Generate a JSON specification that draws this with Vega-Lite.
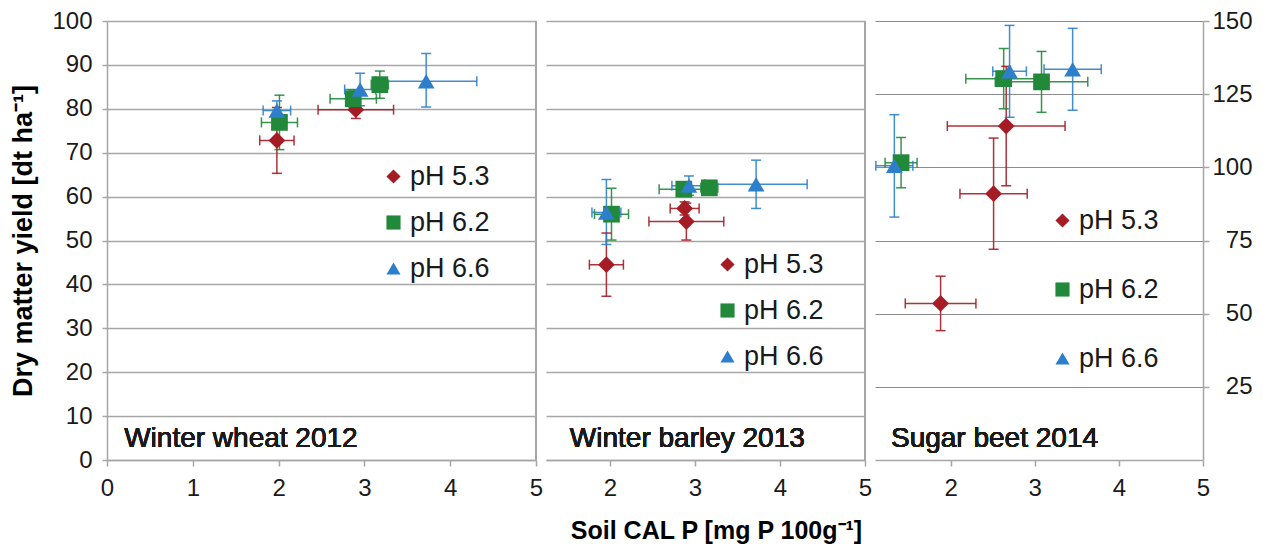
{
  "$schema": "https://vega.github.io/schema/vega-lite/v6.json",
  "background": "white",
  "padding": {"left": 9, "top": 9, "right": 8, "bottom": 4},
  "bounds": "flush",
  "spacing": 10,
  "config": {
    "font": "Liberation Sans",
    "view": {"stroke": null},
    "axis": {
      "labelFont": "Liberation Sans",
      "labelFontSize": 24,
      "labelColor": "#1a1a1a",
      "domainColor": "#A6A6A6",
      "domainWidth": 1.5,
      "tickColor": "#A6A6A6",
      "tickWidth": 1.5,
      "tickSize": 6,
      "gridColor": "#A6A6A6",
      "gridWidth": 1.5,
      "titleFont": "Liberation Sans",
      "titleFontWeight": "bold",
      "titleFontSize": 25,
      "titleColor": "#000000"
    },
    "legend": {
      "labelFont": "Liberation Sans",
      "labelFontSize": 27,
      "labelColor": "#1a1a1a",
      "symbolSize": 200,
      "symbolStrokeWidth": 0,
      "labelOffset": 3
    }
  },
  "datasets": {
    "pts": [
      {"crop": "Winter wheat 2012", "ph": "pH 5.3", "x": 1.98, "y": 72.8, "xlo": 1.78, "xhi": 2.18, "ylo": 65.3, "yhi": 80.3},
      {"crop": "Winter wheat 2012", "ph": "pH 5.3", "x": 2.90, "y": 79.8, "xlo": 2.46, "xhi": 3.34, "ylo": 77.8, "yhi": 81.8},
      {"crop": "Winter wheat 2012", "ph": "pH 6.2", "x": 2.01, "y": 76.9, "xlo": 1.80, "xhi": 2.22, "ylo": 70.7, "yhi": 83.1},
      {"crop": "Winter wheat 2012", "ph": "pH 6.2", "x": 2.87, "y": 82.3, "xlo": 2.60, "xhi": 3.14, "ylo": 80.3, "yhi": 84.3},
      {"crop": "Winter wheat 2012", "ph": "pH 6.2", "x": 3.18, "y": 85.5, "xlo": 3.08, "xhi": 3.28, "ylo": 82.4, "yhi": 88.6},
      {"crop": "Winter wheat 2012", "ph": "pH 6.6", "x": 1.98, "y": 79.6, "xlo": 1.82, "xhi": 2.14, "ylo": 77.4, "yhi": 81.8},
      {"crop": "Winter wheat 2012", "ph": "pH 6.6", "x": 2.95, "y": 84.4, "xlo": 2.77, "xhi": 3.13, "ylo": 80.7, "yhi": 88.1},
      {"crop": "Winter wheat 2012", "ph": "pH 6.6", "x": 3.72, "y": 86.3, "xlo": 3.13, "xhi": 4.31, "ylo": 80.4, "yhi": 92.6},
      {"crop": "Winter barley 2013", "ph": "pH 5.3", "x": 1.96, "y": 44.5, "xlo": 1.76, "xhi": 2.16, "ylo": 37.3, "yhi": 51.7},
      {"crop": "Winter barley 2013", "ph": "pH 5.3", "x": 2.90, "y": 54.3, "xlo": 2.46, "xhi": 3.34, "ylo": 50.1, "yhi": 58.5},
      {"crop": "Winter barley 2013", "ph": "pH 5.3", "x": 2.88, "y": 57.3, "xlo": 2.71, "xhi": 3.05, "ylo": 55.8, "yhi": 58.8},
      {"crop": "Winter barley 2013", "ph": "pH 6.2", "x": 2.02, "y": 56.0, "xlo": 1.82, "xhi": 2.22, "ylo": 50.1, "yhi": 61.9},
      {"crop": "Winter barley 2013", "ph": "pH 6.2", "x": 2.87, "y": 61.7, "xlo": 2.58, "xhi": 3.16, "ylo": 60.2, "yhi": 63.2},
      {"crop": "Winter barley 2013", "ph": "pH 6.2", "x": 3.17, "y": 62.0, "xlo": 3.07, "xhi": 3.27, "ylo": 60.8, "yhi": 63.2},
      {"crop": "Winter barley 2013", "ph": "pH 6.6", "x": 1.96, "y": 56.4, "xlo": 1.79, "xhi": 2.13, "ylo": 49.1, "yhi": 63.9},
      {"crop": "Winter barley 2013", "ph": "pH 6.6", "x": 2.93, "y": 62.5, "xlo": 2.73, "xhi": 3.13, "ylo": 60.3, "yhi": 64.7},
      {"crop": "Winter barley 2013", "ph": "pH 6.6", "x": 3.72, "y": 62.8, "xlo": 3.12, "xhi": 4.32, "ylo": 57.3, "yhi": 68.3},
      {"crop": "Sugar beet 2014", "ph": "pH 5.3", "x": 2.66, "y": 114.1, "xlo": 1.96, "xhi": 3.36, "ylo": 93.7, "yhi": 134.5},
      {"crop": "Sugar beet 2014", "ph": "pH 5.3", "x": 2.51, "y": 91.0, "xlo": 2.11, "xhi": 2.91, "ylo": 72.0, "yhi": 110.0},
      {"crop": "Sugar beet 2014", "ph": "pH 5.3", "x": 1.88, "y": 53.5, "xlo": 1.46, "xhi": 2.30, "ylo": 44.2, "yhi": 62.8},
      {"crop": "Sugar beet 2014", "ph": "pH 6.2", "x": 1.41, "y": 101.6, "xlo": 1.22, "xhi": 1.60, "ylo": 93.0, "yhi": 110.2},
      {"crop": "Sugar beet 2014", "ph": "pH 6.2", "x": 2.63, "y": 130.3, "xlo": 2.18, "xhi": 3.08, "ylo": 120.0, "yhi": 140.6},
      {"crop": "Sugar beet 2014", "ph": "pH 6.2", "x": 3.08, "y": 129.2, "xlo": 2.53, "xhi": 3.63, "ylo": 118.8, "yhi": 139.6},
      {"crop": "Sugar beet 2014", "ph": "pH 6.6", "x": 1.33, "y": 100.5, "xlo": 1.11, "xhi": 1.55, "ylo": 83.0, "yhi": 118.0},
      {"crop": "Sugar beet 2014", "ph": "pH 6.6", "x": 2.70, "y": 132.8, "xlo": 2.50, "xhi": 2.90, "ylo": 117.1, "yhi": 148.5},
      {"crop": "Sugar beet 2014", "ph": "pH 6.6", "x": 3.45, "y": 133.5, "xlo": 3.11, "xhi": 3.79, "ylo": 119.5, "yhi": 147.5}
    ]
  },
  "hconcat": [
    {
      "width": 429,
      "height": 439,
      "data": {"name": "pts"},
      "transform": [{"filter": "datum.crop === 'Winter wheat 2012'"}],
      "layer": [
        {
          "mark": {"type": "rule", "strokeWidth": 1.5, "color": "#A6A6A6"},
          "encoding": {"x": {"datum": 5, "type": "quantitative"}}
        },
        {
          "mark": {"type": "rule", "strokeWidth": 1.5, "opacity": 0.9},
          "encoding": {
            "x": {"field": "xlo", "type": "quantitative", "scale": {"domain": [0, 5], "nice": false, "zero": false}, "axis": {"values": [0, 1, 2, 3, 4, 5], "format": "d", "grid": false, "title": null, "labelPadding": 10, "labelFlush": false}},
            "x2": {"field": "xhi"},
            "y": {"field": "y", "type": "quantitative", "scale": {"domain": [0, 100], "nice": false}, "axis": {"values": [0, 10, 20, 30, 40, 50, 60, 70, 80, 90, 100], "grid": true, "tickSize": 5, "labelPadding": 10, "title": "Dry matter yield [dt ha⁻¹]", "titleFontSize": 27, "titlePadding": 14}},
            "stroke": {"field": "ph", "type": "nominal", "scale": {"domain": ["pH 5.3", "pH 6.2", "pH 6.6"], "range": ["#A51C24", "#22883A", "#2E7FCB"]}, "legend": null}
          }
        },
        {
          "mark": {"type": "rule", "strokeWidth": 1.5, "opacity": 0.9},
          "encoding": {"x": {"field": "x", "type": "quantitative"}, "y": {"field": "ylo", "type": "quantitative"}, "y2": {"field": "yhi"}, "stroke": {"field": "ph", "type": "nominal", "legend": null}}
        },
        {
          "mark": {"type": "tick", "orient": "vertical", "size": 10, "thickness": 1.5, "opacity": 0.9},
          "encoding": {"x": {"field": "xlo", "type": "quantitative"}, "y": {"field": "y", "type": "quantitative"}, "fill": {"field": "ph", "type": "nominal", "scale": {"domain": ["pH 5.3", "pH 6.2", "pH 6.6"], "range": ["#A51C24", "#22883A", "#2E7FCB"]}, "legend": null}}
        },
        {
          "mark": {"type": "tick", "orient": "vertical", "size": 10, "thickness": 1.5, "opacity": 0.9},
          "encoding": {"x": {"field": "xhi", "type": "quantitative"}, "y": {"field": "y", "type": "quantitative"}, "fill": {"field": "ph", "type": "nominal", "legend": null}}
        },
        {
          "mark": {"type": "tick", "orient": "horizontal", "size": 10, "thickness": 1.5, "opacity": 0.9},
          "encoding": {"x": {"field": "x", "type": "quantitative"}, "y": {"field": "ylo", "type": "quantitative"}, "fill": {"field": "ph", "type": "nominal", "legend": null}}
        },
        {
          "mark": {"type": "tick", "orient": "horizontal", "size": 10, "thickness": 1.5, "opacity": 0.9},
          "encoding": {"x": {"field": "x", "type": "quantitative"}, "y": {"field": "yhi", "type": "quantitative"}, "fill": {"field": "ph", "type": "nominal", "legend": null}}
        },
        {
          "mark": {"type": "point", "filled": true, "opacity": 1, "size": 280},
          "encoding": {
            "x": {"field": "x", "type": "quantitative"},
            "y": {"field": "y", "type": "quantitative"},
            "color": {"field": "ph", "type": "nominal", "scale": {"domain": ["pH 5.3", "pH 6.2", "pH 6.6"], "range": ["#A51C24", "#22883A", "#2E7FCB"]}, "legend": {"orient": "none", "legendX": 273, "legendY": 142, "title": null, "rowPadding": 18}},
            "shape": {"field": "ph", "type": "nominal", "scale": {"domain": ["pH 5.3", "pH 6.2", "pH 6.6"], "range": ["diamond", "square", "triangle-up"]}, "legend": {"orient": "none", "legendX": 273, "legendY": 142, "title": null, "rowPadding": 18}}
          }
        },
        {
          "mark": {"type": "text", "align": "left", "baseline": "alphabetic", "fontSize": 28, "color": "#1a1a1a"},
          "encoding": {"x": {"datum": 0.2, "type": "quantitative"}, "y": {"datum": 3, "type": "quantitative"}, "text": {"value": "Winter wheat 2012"}}
        }
      ]
    },
    {
      "width": 319,
      "height": 439,
      "data": {"name": "pts"},
      "transform": [{"filter": "datum.crop === 'Winter barley 2013'"}],
      "layer": [
        {
          "mark": {"type": "rule", "strokeWidth": 1.5, "color": "#A6A6A6"},
          "encoding": {"x": {"datum": 5, "type": "quantitative"}}
        },
        {
          "mark": {"type": "rule", "strokeWidth": 1.5, "opacity": 0.9},
          "encoding": {
            "x": {"field": "xlo", "type": "quantitative", "scale": {"domain": [1.25, 5], "nice": false, "zero": false}, "axis": {"values": [2, 3, 4, 5], "format": "d", "grid": false, "title": "Soil CAL P [mg P 100g⁻¹]", "labelPadding": 10, "labelFlush": false, "titlePadding": 18, "titleX": 170}},
            "x2": {"field": "xhi"},
            "y": {"field": "y", "type": "quantitative", "scale": {"domain": [0, 100], "nice": false}, "axis": {"values": [0, 10, 20, 30, 40, 50, 60, 70, 80, 90, 100], "grid": true, "labels": false, "ticks": false, "domain": false, "title": null}},
            "stroke": {"field": "ph", "type": "nominal", "scale": {"domain": ["pH 5.3", "pH 6.2", "pH 6.6"], "range": ["#A51C24", "#22883A", "#2E7FCB"]}, "legend": null}
          }
        },
        {
          "mark": {"type": "rule", "strokeWidth": 1.5, "opacity": 0.9},
          "encoding": {"x": {"field": "x", "type": "quantitative"}, "y": {"field": "ylo", "type": "quantitative"}, "y2": {"field": "yhi"}, "stroke": {"field": "ph", "type": "nominal", "legend": null}}
        },
        {
          "mark": {"type": "tick", "orient": "vertical", "size": 10, "thickness": 1.5, "opacity": 0.9},
          "encoding": {"x": {"field": "xlo", "type": "quantitative"}, "y": {"field": "y", "type": "quantitative"}, "fill": {"field": "ph", "type": "nominal", "scale": {"domain": ["pH 5.3", "pH 6.2", "pH 6.6"], "range": ["#A51C24", "#22883A", "#2E7FCB"]}, "legend": null}}
        },
        {
          "mark": {"type": "tick", "orient": "vertical", "size": 10, "thickness": 1.5, "opacity": 0.9},
          "encoding": {"x": {"field": "xhi", "type": "quantitative"}, "y": {"field": "y", "type": "quantitative"}, "fill": {"field": "ph", "type": "nominal", "legend": null}}
        },
        {
          "mark": {"type": "tick", "orient": "horizontal", "size": 10, "thickness": 1.5, "opacity": 0.9},
          "encoding": {"x": {"field": "x", "type": "quantitative"}, "y": {"field": "ylo", "type": "quantitative"}, "fill": {"field": "ph", "type": "nominal", "legend": null}}
        },
        {
          "mark": {"type": "tick", "orient": "horizontal", "size": 10, "thickness": 1.5, "opacity": 0.9},
          "encoding": {"x": {"field": "x", "type": "quantitative"}, "y": {"field": "yhi", "type": "quantitative"}, "fill": {"field": "ph", "type": "nominal", "legend": null}}
        },
        {
          "mark": {"type": "point", "filled": true, "opacity": 1, "size": 280},
          "encoding": {
            "x": {"field": "x", "type": "quantitative"},
            "y": {"field": "y", "type": "quantitative"},
            "color": {"field": "ph", "type": "nominal", "scale": {"domain": ["pH 5.3", "pH 6.2", "pH 6.6"], "range": ["#A51C24", "#22883A", "#2E7FCB"]}, "legend": {"orient": "none", "legendX": 168, "legendY": 230, "title": null, "rowPadding": 18}},
            "shape": {"field": "ph", "type": "nominal", "scale": {"domain": ["pH 5.3", "pH 6.2", "pH 6.6"], "range": ["diamond", "square", "triangle-up"]}, "legend": {"orient": "none", "legendX": 168, "legendY": 230, "title": null, "rowPadding": 18}}
          }
        },
        {
          "mark": {"type": "text", "align": "left", "baseline": "alphabetic", "fontSize": 28, "color": "#1a1a1a"},
          "encoding": {"x": {"datum": 1.53, "type": "quantitative"}, "y": {"datum": 3, "type": "quantitative"}, "text": {"value": "Winter barley 2013"}}
        }
      ]
    },
    {
      "width": 328,
      "height": 439,
      "data": {"name": "pts"},
      "transform": [{"filter": "datum.crop === 'Sugar beet 2014'"}],
      "layer": [
        {
          "mark": {"type": "rule", "strokeWidth": 1.5, "opacity": 0.9},
          "encoding": {
            "x": {"field": "xlo", "type": "quantitative", "scale": {"domain": [1.1, 5], "nice": false, "zero": false}, "axis": {"values": [2, 3, 4, 5], "format": "d", "grid": false, "title": null, "labelPadding": 10, "labelFlush": false}},
            "x2": {"field": "xhi"},
            "y": {"field": "y", "type": "quantitative", "scale": {"domain": [0, 150], "nice": false}, "axis": {"orient": "right", "values": [25, 50, 75, 100, 125, 150], "grid": true, "gridColor": "#8C8C8C", "gridWidth": 1.2, "labelAlign": "right", "labelPadding": 43, "title": null}},
            "stroke": {"field": "ph", "type": "nominal", "scale": {"domain": ["pH 5.3", "pH 6.2", "pH 6.6"], "range": ["#A51C24", "#22883A", "#2E7FCB"]}, "legend": null}
          }
        },
        {
          "mark": {"type": "rule", "strokeWidth": 1.5, "opacity": 0.9},
          "encoding": {"x": {"field": "x", "type": "quantitative"}, "y": {"field": "ylo", "type": "quantitative"}, "y2": {"field": "yhi"}, "stroke": {"field": "ph", "type": "nominal", "legend": null}}
        },
        {
          "mark": {"type": "tick", "orient": "vertical", "size": 10, "thickness": 1.5, "opacity": 0.9},
          "encoding": {"x": {"field": "xlo", "type": "quantitative"}, "y": {"field": "y", "type": "quantitative"}, "fill": {"field": "ph", "type": "nominal", "scale": {"domain": ["pH 5.3", "pH 6.2", "pH 6.6"], "range": ["#A51C24", "#22883A", "#2E7FCB"]}, "legend": null}}
        },
        {
          "mark": {"type": "tick", "orient": "vertical", "size": 10, "thickness": 1.5, "opacity": 0.9},
          "encoding": {"x": {"field": "xhi", "type": "quantitative"}, "y": {"field": "y", "type": "quantitative"}, "fill": {"field": "ph", "type": "nominal", "legend": null}}
        },
        {
          "mark": {"type": "tick", "orient": "horizontal", "size": 10, "thickness": 1.5, "opacity": 0.9},
          "encoding": {"x": {"field": "x", "type": "quantitative"}, "y": {"field": "ylo", "type": "quantitative"}, "fill": {"field": "ph", "type": "nominal", "legend": null}}
        },
        {
          "mark": {"type": "tick", "orient": "horizontal", "size": 10, "thickness": 1.5, "opacity": 0.9},
          "encoding": {"x": {"field": "x", "type": "quantitative"}, "y": {"field": "yhi", "type": "quantitative"}, "fill": {"field": "ph", "type": "nominal", "legend": null}}
        },
        {
          "mark": {"type": "point", "filled": true, "opacity": 1, "size": 280},
          "encoding": {
            "x": {"field": "x", "type": "quantitative"},
            "y": {"field": "y", "type": "quantitative"},
            "color": {"field": "ph", "type": "nominal", "scale": {"domain": ["pH 5.3", "pH 6.2", "pH 6.6"], "range": ["#A51C24", "#22883A", "#2E7FCB"]}, "legend": {"orient": "none", "legendX": 174, "legendY": 186, "title": null, "rowPadding": 41}},
            "shape": {"field": "ph", "type": "nominal", "scale": {"domain": ["pH 5.3", "pH 6.2", "pH 6.6"], "range": ["diamond", "square", "triangle-up"]}, "legend": {"orient": "none", "legendX": 174, "legendY": 186, "title": null, "rowPadding": 41}}
          }
        },
        {
          "mark": {"type": "text", "align": "left", "baseline": "alphabetic", "fontSize": 28, "color": "#1a1a1a"},
          "encoding": {"x": {"datum": 1.29, "type": "quantitative"}, "y": {"datum": 4.4, "type": "quantitative"}, "text": {"value": "Sugar beet 2014"}}
        }
      ]
    }
  ],
  "resolve": {
    "scale": {"x": "independent", "y": "independent", "color": "independent", "shape": "independent"},
    "legend": {"color": "independent", "shape": "independent"}
  }
}
